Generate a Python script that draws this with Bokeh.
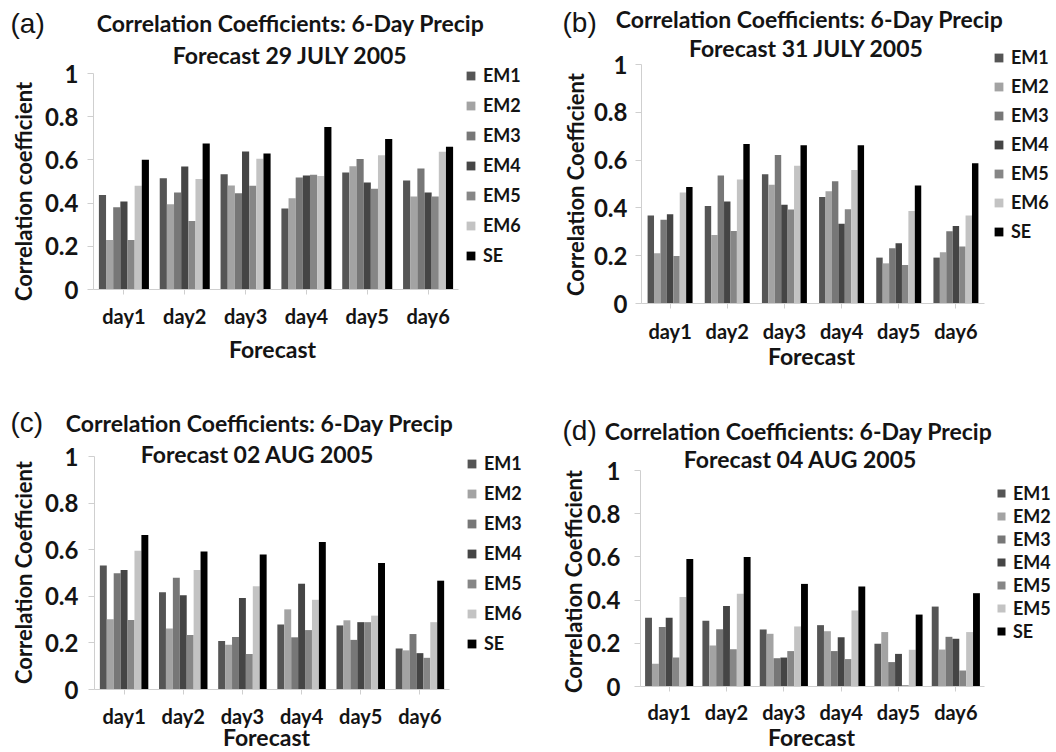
from bokeh.plotting import figure
from bokeh.models import (Range1d, FixedTicker, Legend, LegendItem, Label,
                          ColumnDataSource)
from bokeh.transform import dodge
from bokeh.layouts import column, row
from bokeh.embed import file_html
from bokeh.resources import INLINE

# ---------------- data ----------------
days = ["day1", "day2", "day3", "day4", "day5", "day6"]
series = ["EM1", "EM2", "EM3", "EM4", "EM5", "EM6", "SE"]
y_ticks = [0, 0.2, 0.4, 0.6, 0.8, 1]
y_tick_labels = ["0", "0.2", "0.4", "0.6", "0.8", "1"]

# (a) 29 JULY 2005
a_em1 = [0.438, 0.515, 0.534, 0.375, 0.542, 0.505]
a_em2 = [0.229, 0.395, 0.481, 0.423, 0.571, 0.430]
a_em3 = [0.381, 0.449, 0.446, 0.519, 0.604, 0.560]
a_em4 = [0.407, 0.570, 0.639, 0.528, 0.495, 0.449]
a_em5 = [0.229, 0.317, 0.480, 0.531, 0.467, 0.430]
a_em6 = [0.480, 0.512, 0.605, 0.525, 0.622, 0.638]
a_se = [0.601, 0.676, 0.630, 0.752, 0.697, 0.661]

# (b) 31 JULY 2005
b_em1 = [0.368, 0.408, 0.541, 0.446, 0.192, 0.192]
b_em2 = [0.210, 0.287, 0.497, 0.470, 0.168, 0.214]
b_em3 = [0.350, 0.536, 0.621, 0.512, 0.231, 0.302]
b_em4 = [0.373, 0.427, 0.413, 0.334, 0.252, 0.324]
b_em5 = [0.199, 0.303, 0.393, 0.394, 0.161, 0.238]
b_em6 = [0.464, 0.519, 0.576, 0.559, 0.387, 0.368]
b_se = [0.487, 0.667, 0.662, 0.662, 0.494, 0.587]

# (c) 02 AUG 2005
c_em1 = [0.532, 0.417, 0.208, 0.279, 0.275, 0.176]
c_em2 = [0.301, 0.262, 0.192, 0.344, 0.297, 0.168]
c_em3 = [0.499, 0.480, 0.225, 0.224, 0.213, 0.238]
c_em4 = [0.513, 0.405, 0.393, 0.454, 0.289, 0.156]
c_em5 = [0.298, 0.234, 0.152, 0.255, 0.289, 0.136]
c_em6 = [0.595, 0.513, 0.443, 0.385, 0.317, 0.289]
c_se = [0.663, 0.592, 0.579, 0.633, 0.543, 0.467]

# (d) 04 AUG 2005
d_em1 = [0.318, 0.304, 0.264, 0.284, 0.198, 0.370]
d_em2 = [0.105, 0.190, 0.244, 0.256, 0.252, 0.171]
d_em3 = [0.276, 0.265, 0.131, 0.164, 0.113, 0.230]
d_em4 = [0.318, 0.373, 0.134, 0.228, 0.151, 0.221]
d_em5 = [0.134, 0.173, 0.164, 0.127, 0.006, 0.074]
d_em6 = [0.414, 0.429, 0.278, 0.352, 0.170, 0.252]
d_se = [0.590, 0.600, 0.475, 0.463, 0.333, 0.432]

labels_abc = ["EM1", "EM2", "EM3", "EM4", "EM5", "EM6", "SE"]
labels_d = ["EM1", "EM2", "EM3", "EM4", "EM5", "EM5", "SE"]

title_line1 = "Correlation Coefficients: 6-Day Precip"
x_title = "Forecast"

# ---------------- style ----------------
FONT = "Lato"
TEXT = "#141414"
AXIS = "#cfcfcf"
colors = ["#555555", "#a3a3a3", "#777777", "#454545", "#868686", "#c3c3c3", "#000000"]

# category centres on a numeric axis (day i sits in slot i)
day_pos = [i + 0.5 for i in range(len(days))]


def add_text(p, x, y, txt, size, font=FONT, style="bold", align="center", angle=0):
    p.add_layout(Label(x=x, y=y, x_units="screen", y_units="screen", text=txt,
                       angle=angle, angle_units="deg",
                       text_align=align, text_baseline="middle",
                       text_font=font, text_font_style=style,
                       text_font_size=size, text_color=TEXT))


def make_panel(vals, legend_labels, tag, title2, ylabel, g):
    W, H = g["w"], g["h"]
    L, R, T, B = g["frame"]          # where the days/0..1 box sits in the panel
    slot = (R - L) / len(days)
    unit = B - T
    src = ColumnDataSource(dict(x=day_pos, **{s: v for s, v in zip(series, vals)}))
    p = figure(width=W, height=H,
               x_range=Range1d(-L / slot, (W - L) / slot),
               y_range=Range1d(-(H - B) / unit, 1 + T / unit),
               output_backend="svg", toolbar_location=None,
               min_border=0, min_border_left=0, min_border_right=0,
               min_border_top=0, min_border_bottom=0)
    p.xgrid.grid_line_color = None
    p.ygrid.grid_line_color = None
    p.outline_line_color = None

    bw = g["bw"]
    items = []
    for i, s in enumerate(series):
        r = p.vbar(x=dodge("x", (i - 3) * bw), top=s, width=bw,
                   source=src, fill_color=colors[i], line_color=None)
        items.append(LegendItem(label=legend_labels[i], renderers=[r]))

    for ax in (p.xaxis[0], p.yaxis[0]):
        ax.fixed_location = 0
        ax.axis_line_color = AXIS
        ax.major_tick_line_color = AXIS
        ax.minor_tick_line_color = None
        ax.major_tick_in = 0
        ax.major_label_text_font = FONT
        ax.major_label_text_font_style = "bold"
        ax.major_label_text_color = TEXT
    xa = p.xaxis[0]
    xa.bounds = (0, len(days))
    xa.ticker = FixedTicker(ticks=day_pos, minor_ticks=[])
    xa.major_label_overrides = {t: d for t, d in zip(day_pos, days)}
    xa.major_tick_out = 5
    xa.major_label_text_font_size = "20px"
    xa.major_label_standoff = g["xls"]

    ya = p.yaxis[0]
    ya.bounds = (0, 1)
    ya.ticker = FixedTicker(ticks=y_ticks, minor_ticks=[])
    ya.major_label_overrides = {t: l for t, l in zip(y_ticks, y_tick_labels)}
    ya.major_tick_out = 6
    ya.major_label_text_font_size = "24px"
    ya.major_label_standoff = g["yls"]

    leg = Legend(items=items, location=g["leg"], orientation="vertical",
                 padding=0, margin=0, spacing=g["lsp"],
                 glyph_width=g["gw"], glyph_height=g["gw"], label_height=22,
                 label_standoff=7, border_line_color=None, background_fill_alpha=0,
                 label_text_font=FONT, label_text_font_style="bold",
                 label_text_font_size="18px", label_text_color=TEXT)
    p.add_layout(leg)

    # texts, positions in panel pixels measured from the top-left corner
    (t1x, t1y), (t2x, t2y) = g["t1"], g["t2"]
    tgx, tgy = g["tag"]
    xlx, xly = g["xlab"]
    ylx, yly = g["ylab"]
    add_text(p, t1x, H - t1y, title_line1, "23px")
    add_text(p, t2x, H - t2y, title2, "23px")
    add_text(p, tgx, H - tgy, tag, "28px", font="Liberation Sans", style="normal",
             align="left")
    add_text(p, xlx, H - xly, x_title, "23px")
    add_text(p, ylx, H - yly, ylabel, "22px", angle=90)
    return p


geo_a = dict(w=530, h=395, frame=(93, 458, 73, 289), bw=0.1175, xls=9, yls=9,
             leg=(465, 129), lsp=8, gw=11,
             t1=(290, 22), t2=(290, 54), tag=(10, 23), xlab=(272, 348), ylab=(23, 191))
geo_b = dict(w=526, h=395, frame=(111, 454, 64, 303), bw=0.1124, xls=10, yls=8,
             leg=(463, 153), lsp=7, gw=11,
             t1=(279, 18), t2=(279, 47), tag=(32, 22), xlab=(281, 355), ylab=(45, 184))
geo_c = dict(w=530, h=357, frame=(94, 449, 61, 294), bw=0.117, xls=9, yls=10,
             leg=(466, 98), lsp=8, gw=11,
             t1=(259, 27), t2=(257, 58), tag=(10, 27), xlab=(266, 341), ylab=(23, 177))
geo_d = dict(w=526, h=357, frame=(110, 454, 75, 291), bw=0.12, xls=8, yls=14,
             leg=(466, 110), lsp=1, gw=10,
             t1=(268, 35), t2=(270, 63), tag=(32, 35), xlab=(281, 341), ylab=(43, 186))

pa = make_panel([a_em1, a_em2, a_em3, a_em4, a_em5, a_em6, a_se], labels_abc, "(a)",
                "Forecast 29 JULY 2005", "Correlation coefficient", geo_a)
pb = make_panel([b_em1, b_em2, b_em3, b_em4, b_em5, b_em6, b_se], labels_abc, "(b)",
                "Forecast  31 JULY 2005", "Correlation Coefficient", geo_b)
pc = make_panel([c_em1, c_em2, c_em3, c_em4, c_em5, c_em6, c_se], labels_abc, "(c)",
                "Forecast 02 AUG 2005", "Correlation Coefficient", geo_c)
pd_ = make_panel([d_em1, d_em2, d_em3, d_em4, d_em5, d_em6, d_se], labels_d, "(d)",
                 "Forecast 04 AUG 2005", "Correlation Coefficient", geo_d)

layout = column(row(pa, pb, spacing=0), row(pc, pd_, spacing=0), spacing=0)

with open("out.html", "w") as f:
    f.write(file_html(layout, INLINE))
